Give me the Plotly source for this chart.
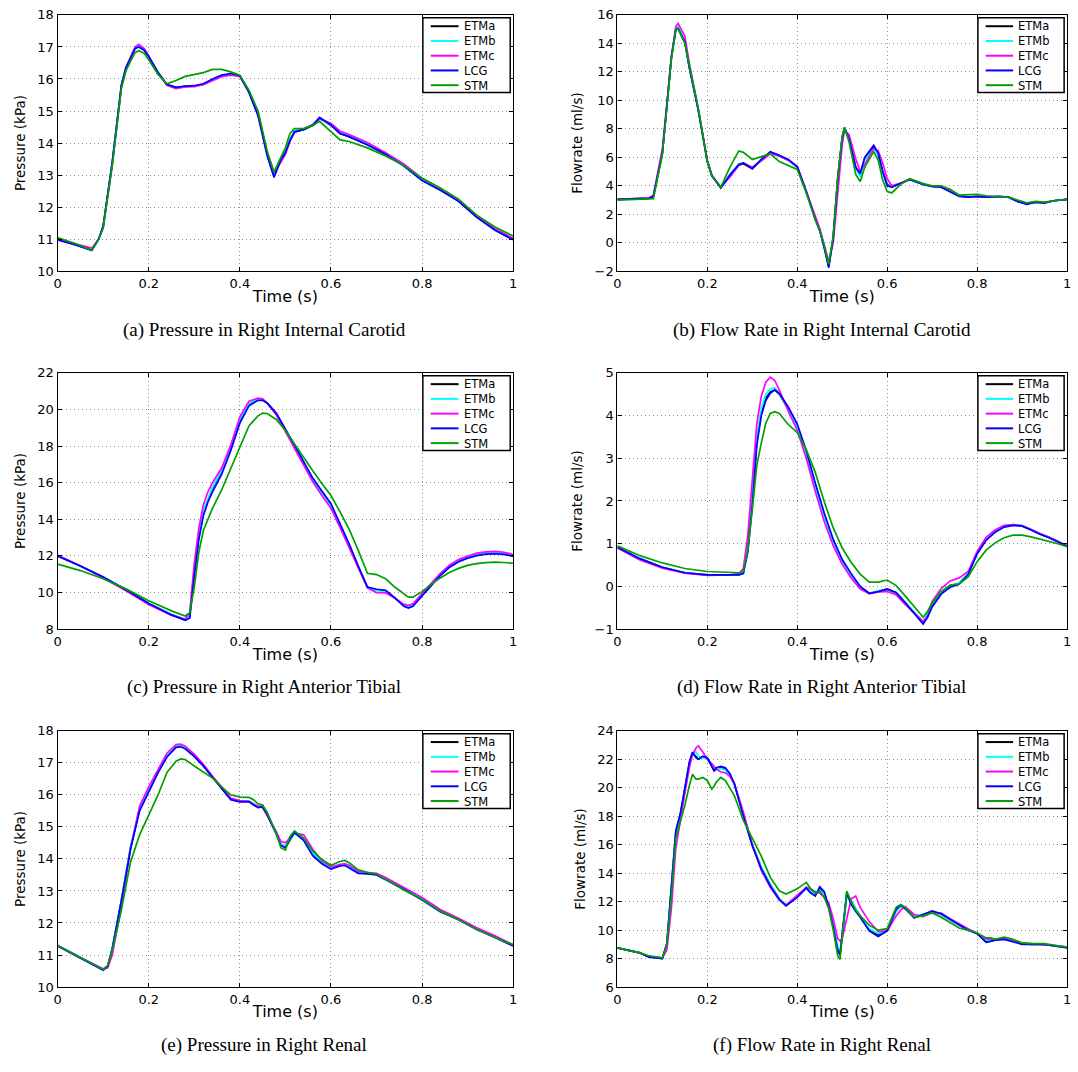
import plotly.graph_objects as go

SERIES = ["ETMa", "ETMb", "ETMc", "LCG", "STM"]
COLORS = ["#000000", "#00ffff", "#ff00ff", "#0000ff", "#00a000"]
X_TICKS = [0, 0.2, 0.4, 0.6, 0.8, 1]

# ---------------- (a) Pressure in Right Internal Carotid ----------------
T_A = [0, 0.04, 0.075, 0.09, 0.1, 0.12, 0.14, 0.15, 0.16, 0.17,
       0.178, 0.19, 0.2, 0.22, 0.24, 0.26, 0.28, 0.3, 0.32, 0.34,
       0.36, 0.38, 0.4, 0.42, 0.44, 0.46, 0.475, 0.49, 0.5, 0.51,
       0.52, 0.54, 0.56, 0.575, 0.6, 0.62, 0.64, 0.68, 0.72, 0.76,
       0.8, 0.84, 0.88, 0.92, 0.96, 1.0]
A_ETMA = [11.0, 10.83, 10.66, 11.0, 11.4, 13.4, 15.8, 16.35, 16.65, 16.95,
          17.02, 16.9, 16.7, 16.2, 15.82, 15.73, 15.77, 15.78, 15.84, 15.98,
          16.1, 16.15, 16.1, 15.6, 14.9, 13.65, 12.97, 13.5, 13.72, 14.1,
          14.35, 14.42, 14.55, 14.78, 14.55, 14.3, 14.2, 13.95, 13.65, 13.3,
          12.85, 12.55, 12.2, 11.7, 11.3, 11.0]
A_ETMB = [11.0, 10.83, 10.66, 11.0, 11.4, 13.4, 15.8, 16.35, 16.65, 16.96,
          17.04, 16.92, 16.7, 16.2, 15.82, 15.73, 15.77, 15.78, 15.84, 15.98,
          16.1, 16.15, 16.1, 15.62, 14.92, 13.68, 13.0, 13.5, 13.72, 14.12,
          14.38, 14.43, 14.55, 14.76, 14.57, 14.32, 14.22, 13.97, 13.67, 13.32,
          12.86, 12.56, 12.2, 11.7, 11.3, 11.0]
A_ETMC = [11.0, 10.85, 10.72, 11.0, 11.35, 13.3, 15.75, 16.35, 16.7, 17.0,
          17.08, 16.95, 16.72, 16.18, 15.8, 15.7, 15.75, 15.76, 15.82, 15.95,
          16.07, 16.12, 16.08, 15.6, 14.92, 13.7, 13.05, 13.4, 13.65, 14.05,
          14.33, 14.45, 14.58, 14.75, 14.62, 14.37, 14.27, 14.02, 13.7, 13.35,
          12.9, 12.58, 12.22, 11.72, 11.33, 11.02]
A_LCG = [10.98, 10.82, 10.65, 11.0, 11.4, 13.4, 15.8, 16.35, 16.65, 16.95,
         17.0, 16.9, 16.7, 16.22, 15.83, 15.74, 15.78, 15.79, 15.85, 16.0,
         16.12, 16.17, 16.1, 15.58, 14.85, 13.6, 12.93, 13.48, 13.7, 14.08,
         14.35, 14.42, 14.56, 14.8, 14.57, 14.3, 14.2, 13.95, 13.65, 13.28,
         12.83, 12.53, 12.18, 11.68, 11.28, 10.98]
A_STM = [11.05, 10.86, 10.66, 11.0, 11.35, 13.3, 15.7, 16.25, 16.55, 16.82,
         16.88, 16.8, 16.6, 16.15, 15.85, 15.95, 16.08, 16.15, 16.2, 16.3,
         16.3, 16.22, 16.12, 15.65, 15.0, 13.75, 13.1, 13.55, 13.85, 14.3,
         14.45, 14.45, 14.55, 14.68, 14.35, 14.1, 14.05, 13.85, 13.6, 13.3,
         12.9, 12.6, 12.25, 11.75, 11.38, 11.1]

# ---------------- (b) Flow Rate in Right Internal Carotid ----------------
T_B = [0, 0.07, 0.08, 0.1, 0.11, 0.12, 0.13, 0.135, 0.15, 0.16,
       0.18, 0.2, 0.21, 0.23, 0.25, 0.27, 0.28, 0.3, 0.32, 0.34,
       0.36, 0.38, 0.4, 0.42, 0.44, 0.45, 0.46, 0.47, 0.48, 0.49,
       0.5, 0.505, 0.515, 0.53, 0.54, 0.55, 0.57, 0.58, 0.59, 0.6,
       0.61, 0.63, 0.65, 0.68, 0.7, 0.72, 0.74, 0.76, 0.78, 0.8,
       0.82, 0.85, 0.87, 0.89, 0.91, 0.93, 0.95, 0.97, 1.0]
B_ETMA = [3.05, 3.12, 3.25, 6.3, 9.6, 13.0, 15.0, 15.1, 14.1, 12.3,
          9.3, 5.7, 4.7, 3.9, 4.75, 5.45, 5.55, 5.2, 5.8, 6.35,
          6.1, 5.8, 5.3, 3.6, 1.7, 0.9, -0.3, -1.65, 0.4, 4.5,
          7.4, 8.1, 7.3, 5.3, 4.8, 5.9, 6.75, 6.2, 5.0, 4.1,
          3.9, 4.2, 4.45, 4.1, 3.95, 3.9, 3.65, 3.3, 3.2, 3.25,
          3.2, 3.25, 3.2, 2.9, 2.75, 2.85, 2.8, 2.95, 3.05]
B_ETMB = [3.05, 3.12, 3.25, 6.3, 9.6, 13.0, 15.0, 15.2, 14.1, 12.3,
          9.3, 5.7, 4.7, 3.9, 4.8, 5.55, 5.6, 5.25, 5.85, 6.35,
          6.1, 5.8, 5.3, 3.6, 1.7, 0.9, -0.3, -1.6, 0.4, 4.5,
          7.4, 8.1, 7.3, 5.2, 4.65, 5.8, 6.6, 6.2, 5.0, 4.0,
          3.9, 4.2, 4.45, 4.1, 3.95, 3.9, 3.65, 3.3, 3.2, 3.25,
          3.2, 3.25, 3.2, 2.9, 2.75, 2.85, 2.8, 2.95, 3.05]
B_ETMC = [3.05, 3.15, 3.35, 6.6, 9.8, 13.1, 15.2, 15.4, 14.5, 12.6,
          9.4, 5.8, 4.75, 3.9, 4.6, 5.45, 5.6, 5.3, 5.75, 6.25,
          6.1, 5.8, 5.35, 3.65, 1.8, 1.0, -0.15, -1.3, 0.0, 3.6,
          6.9, 7.9, 7.6, 5.9, 5.0, 5.5, 6.6, 6.45, 5.6, 4.5,
          4.0, 4.2, 4.45, 4.15, 3.95, 3.9, 3.65, 3.3, 3.2, 3.25,
          3.2, 3.25, 3.2, 2.9, 2.75, 2.85, 2.8, 2.95, 3.05]
B_LCG = [3.05, 3.12, 3.25, 6.3, 9.6, 13.0, 15.0, 15.05, 14.1, 12.3,
         9.3, 5.7, 4.7, 3.85, 4.75, 5.5, 5.6, 5.2, 5.85, 6.4,
         6.15, 5.85, 5.35, 3.6, 1.65, 0.85, -0.35, -1.75, 0.35, 4.5,
         7.4, 8.05, 7.3, 5.3, 4.85, 6.0, 6.85, 6.3, 5.0, 4.0,
         3.9, 4.2, 4.45, 4.1, 3.95, 3.9, 3.6, 3.25, 3.2, 3.25,
         3.2, 3.25, 3.2, 2.9, 2.7, 2.85, 2.8, 2.95, 3.05]
B_STM = [3.0, 3.08, 3.1, 6.2, 9.5, 12.9, 15.0, 15.0, 14.0, 12.4,
         9.4, 5.7, 4.7, 3.9, 5.3, 6.45, 6.35, 5.85, 6.05, 6.25,
         5.7, 5.4, 5.15, 3.5, 1.6, 0.85, -0.2, -1.5, 0.5, 4.6,
         7.5, 8.1, 7.1, 4.8, 4.3, 5.3, 6.4, 5.8, 4.4, 3.6,
         3.5, 4.1, 4.5, 4.15, 4.0, 4.0, 3.75, 3.35, 3.35, 3.4,
         3.3, 3.25, 3.2, 3.0, 2.8, 2.9, 2.85, 2.95, 3.05]

# ---------------- (c) Pressure in Right Anterior Tibial ----------------
T_C = [0, 0.05, 0.1, 0.15, 0.2, 0.25, 0.28, 0.29, 0.3, 0.31,
       0.32, 0.33, 0.34, 0.36, 0.38, 0.4, 0.42, 0.44, 0.45, 0.46,
       0.48, 0.5, 0.52, 0.54, 0.56, 0.58, 0.6, 0.62, 0.64, 0.66,
       0.68, 0.7, 0.72, 0.74, 0.76, 0.77, 0.78, 0.8, 0.82, 0.84,
       0.86, 0.88, 0.9, 0.92, 0.94, 0.96, 0.98, 1.0]
C_ETMA = [12.0, 11.45, 10.85, 10.15, 9.4, 8.8, 8.52, 8.7, 11.2, 13.1,
          14.4, 15.1, 15.7, 16.6, 17.9, 19.4, 20.3, 20.55, 20.52, 20.35,
          19.75, 18.9, 18.0, 17.1, 16.2, 15.5, 14.8, 13.7, 12.6, 11.4,
          10.3, 10.15, 10.1, 9.7, 9.3, 9.2, 9.3, 9.85, 10.4, 10.95,
          11.4, 11.7, 11.9, 12.05, 12.12, 12.15, 12.12, 12.0]
C_ETMB = [12.0, 11.45, 10.85, 10.15, 9.4, 8.8, 8.52, 8.7, 11.2, 13.15,
          14.45, 15.15, 15.75, 16.65, 17.95, 19.45, 20.32, 20.56, 20.52, 20.33,
          19.73, 18.88, 17.98, 17.08, 16.18, 15.45, 14.75, 13.68, 12.58, 11.38,
          10.3, 10.12, 10.05, 9.68, 9.3, 9.22, 9.32, 9.88, 10.42, 10.97,
          11.42, 11.72, 11.93, 12.08, 12.15, 12.18, 12.15, 12.02]
C_ETMC = [12.05, 11.45, 10.8, 10.1, 9.35, 8.75, 8.55, 8.9, 11.6, 13.5,
          14.8, 15.5, 16.0, 16.8, 18.05, 19.6, 20.45, 20.62, 20.58, 20.35,
          19.7, 18.8, 17.9, 16.95, 16.05, 15.3, 14.6, 13.55, 12.45, 11.3,
          10.25, 10.0, 9.98, 9.7, 9.35, 9.3, 9.38, 9.95, 10.5, 11.05,
          11.5, 11.8, 12.0, 12.15, 12.22, 12.25, 12.2, 12.08]
C_LCG = [12.0, 11.45, 10.85, 10.15, 9.4, 8.78, 8.48, 8.6, 10.9, 12.9,
         14.2, 14.95, 15.5, 16.45, 17.75, 19.25, 20.2, 20.5, 20.5, 20.35,
         19.8, 18.95, 18.05, 17.15, 16.25, 15.55, 14.85, 13.75, 12.65, 11.45,
         10.3, 10.18, 10.12, 9.72, 9.25, 9.15, 9.25, 9.82, 10.38, 10.93,
         11.38, 11.68, 11.88, 12.02, 12.1, 12.12, 12.08, 11.98]
C_STM = [11.55, 11.2, 10.75, 10.2, 9.55, 9.0, 8.72, 8.9, 10.3, 12.2,
         13.4, 14.05, 14.6, 15.6, 16.75, 18.0, 19.1, 19.65, 19.8, 19.78,
         19.45, 18.85, 18.1, 17.35, 16.65, 15.95, 15.3, 14.4, 13.45, 12.3,
         11.05, 10.98, 10.75, 10.3, 9.9, 9.75, 9.75, 10.05, 10.45, 10.8,
         11.1, 11.32, 11.48, 11.58, 11.63, 11.66, 11.64, 11.6]

# ---------------- (d) Flow Rate in Right Anterior Tibial ----------------
T_D = [0, 0.05, 0.1, 0.15, 0.2, 0.25, 0.27, 0.28, 0.29, 0.3,
       0.31, 0.32, 0.33, 0.34, 0.35, 0.36, 0.38, 0.4, 0.42, 0.44,
       0.46, 0.48, 0.5, 0.52, 0.54, 0.56, 0.58, 0.6, 0.62, 0.64,
       0.66, 0.68, 0.69, 0.7, 0.72, 0.74, 0.76, 0.78, 0.8, 0.82,
       0.84, 0.86, 0.88, 0.9, 0.92, 0.94, 0.96, 0.98, 1.0]
D_ETMA = [0.92, 0.65, 0.45, 0.32, 0.27, 0.26, 0.27, 0.32, 0.9, 2.0,
          3.4, 4.05, 4.4, 4.55, 4.6, 4.5, 4.15, 3.75, 3.13, 2.37,
          1.67, 1.06, 0.6, 0.27, -0.02, -0.17, -0.12, -0.07, -0.15, -0.38,
          -0.62, -0.85, -0.65, -0.42, -0.15, 0.0, 0.07, 0.3, 0.78, 1.1,
          1.28, 1.4, 1.44, 1.42, 1.33, 1.23, 1.15, 1.05, 0.95]
D_ETMB = [0.92, 0.65, 0.45, 0.32, 0.27, 0.26, 0.27, 0.33, 0.95, 2.1,
          3.5, 4.15, 4.5, 4.62, 4.65, 4.52, 4.15, 3.72, 3.1, 2.33,
          1.63, 1.03, 0.58, 0.25, -0.03, -0.16, -0.1, -0.06, -0.14, -0.37,
          -0.6, -0.82, -0.62, -0.4, -0.14, 0.02, 0.08, 0.32, 0.8, 1.12,
          1.3, 1.42, 1.45, 1.43, 1.33, 1.23, 1.15, 1.05, 0.95]
D_ETMC = [0.9, 0.62, 0.43, 0.31, 0.26, 0.27, 0.3, 0.42, 1.2, 2.5,
          3.8, 4.45, 4.78, 4.9, 4.82, 4.6, 4.1, 3.65, 3.0, 2.22,
          1.52, 0.95, 0.52, 0.2, -0.06, -0.17, -0.13, -0.12, -0.2, -0.42,
          -0.62, -0.82, -0.7, -0.35, -0.05, 0.13, 0.2, 0.35, 0.82, 1.15,
          1.32, 1.43, 1.45, 1.42, 1.33, 1.23, 1.15, 1.05, 0.95]
D_LCG = [0.92, 0.65, 0.45, 0.32, 0.27, 0.26, 0.27, 0.3, 0.8, 1.9,
         3.3, 4.0, 4.35, 4.52, 4.6, 4.52, 4.2, 3.8, 3.18, 2.42,
         1.72, 1.1, 0.63, 0.3, 0.0, -0.16, -0.12, -0.06, -0.14, -0.38,
         -0.62, -0.88, -0.72, -0.48, -0.18, -0.02, 0.05, 0.28, 0.76, 1.08,
         1.27, 1.39, 1.43, 1.41, 1.32, 1.22, 1.14, 1.04, 0.94]
D_STM = [0.95, 0.72, 0.55, 0.42, 0.35, 0.32, 0.32, 0.35, 0.85, 1.8,
         2.83, 3.36, 3.82, 4.05, 4.09, 4.05, 3.79, 3.6, 3.2, 2.67,
         1.98, 1.37, 0.9, 0.56, 0.29, 0.1, 0.1, 0.15, 0.02, -0.22,
         -0.48, -0.72, -0.58, -0.38, -0.12, 0.03, 0.06, 0.22, 0.58, 0.85,
         1.02, 1.14, 1.2, 1.2, 1.16, 1.11, 1.06, 1.0, 0.93]

# ---------------- (e) Pressure in Right Renal ----------------
T_E = [0, 0.05, 0.1, 0.11, 0.12, 0.14, 0.16, 0.18, 0.2, 0.22,
       0.24, 0.26, 0.27, 0.28, 0.3, 0.32, 0.34, 0.36, 0.38, 0.4,
       0.42, 0.43, 0.44, 0.45, 0.46, 0.48, 0.49, 0.5, 0.51, 0.52,
       0.54, 0.56, 0.58, 0.6, 0.62, 0.63, 0.64, 0.66, 0.68, 0.7,
       0.72, 0.76, 0.8, 0.84, 0.88, 0.92, 0.96, 1.0]
E_ETMA = [11.3, 10.92, 10.55, 10.65, 11.2, 12.7, 14.35, 15.55, 16.15, 16.7,
          17.2, 17.5, 17.52, 17.45, 17.2, 16.9, 16.55, 16.22, 15.88, 15.8,
          15.8, 15.72, 15.62, 15.65, 15.4, 14.8, 14.45, 14.35, 14.6, 14.82,
          14.6, 14.15, 13.9, 13.7, 13.8, 13.83, 13.76, 13.6, 13.55, 13.52,
          13.37, 13.07, 12.75, 12.37, 12.12, 11.82, 11.57, 11.3]
E_ETMB = [11.3, 10.92, 10.55, 10.65, 11.2, 12.72, 14.38, 15.57, 16.17, 16.72,
          17.22, 17.52, 17.54, 17.47, 17.22, 16.92, 16.56, 16.22, 15.88, 15.8,
          15.8, 15.73, 15.64, 15.66, 15.42, 14.8, 14.47, 14.4, 14.62, 14.8,
          14.6, 14.17, 13.92, 13.72, 13.82, 13.84, 13.77, 13.6, 13.55, 13.52,
          13.38, 13.08, 12.76, 12.38, 12.12, 11.82, 11.57, 11.3]
E_ETMC = [11.3, 10.92, 10.57, 10.6, 11.0, 12.5, 14.3, 15.65, 16.25, 16.8,
          17.3, 17.57, 17.58, 17.52, 17.27, 16.95, 16.58, 16.25, 15.9, 15.82,
          15.8, 15.7, 15.65, 15.6, 15.35, 14.85, 14.55, 14.5, 14.65, 14.8,
          14.75, 14.3, 13.95, 13.75, 13.82, 13.85, 13.8, 13.62, 13.57, 13.55,
          13.42, 13.12, 12.8, 12.42, 12.15, 11.85, 11.6, 11.32]
E_LCG = [11.28, 10.9, 10.53, 10.65, 11.2, 12.7, 14.3, 15.5, 16.1, 16.68,
         17.18, 17.48, 17.5, 17.44, 17.2, 16.9, 16.55, 16.2, 15.85, 15.78,
         15.78, 15.68, 15.6, 15.62, 15.38, 14.78, 14.42, 14.35, 14.62, 14.82,
         14.58, 14.1, 13.85, 13.68, 13.78, 13.8, 13.72, 13.55, 13.53, 13.5,
         13.35, 13.05, 12.72, 12.35, 12.1, 11.8, 11.55, 11.28]
E_STM = [11.3, 10.93, 10.55, 10.68, 11.15, 12.4, 13.9, 14.75, 15.36, 15.98,
         16.7, 17.05, 17.12, 17.1, 16.9, 16.7, 16.52, 16.25, 16.0, 15.93,
         15.92, 15.85, 15.72, 15.68, 15.45, 14.8, 14.35, 14.28, 14.7, 14.87,
         14.65, 14.25, 13.98, 13.8, 13.92, 13.95, 13.88, 13.66, 13.58, 13.53,
         13.36, 13.03, 12.73, 12.37, 12.1, 11.8, 11.55, 11.32]

# ---------------- (f) Flow Rate in Right Renal ----------------
T_F = [0, 0.05, 0.07, 0.09, 0.1, 0.11, 0.12, 0.13, 0.14, 0.15,
       0.16, 0.167, 0.175, 0.18, 0.19, 0.2, 0.21, 0.215, 0.22, 0.23,
       0.24, 0.25, 0.26, 0.28, 0.3, 0.32, 0.34, 0.36, 0.375, 0.4,
       0.42, 0.43, 0.44, 0.45, 0.46, 0.47, 0.48, 0.49, 0.495, 0.5,
       0.51, 0.52, 0.53, 0.54, 0.56, 0.58, 0.6, 0.62, 0.63, 0.64,
       0.66, 0.68, 0.7, 0.72, 0.74, 0.76, 0.78, 0.8, 0.82, 0.83,
       0.84, 0.86, 0.88, 0.9, 0.92, 0.95, 0.98, 1.0]
F_ETMA = [8.75, 8.4, 8.15, 8.05, 8.0, 9.0, 12.8, 16.9, 18.1, 19.9,
          21.7, 22.45, 22.15, 22.0, 22.2, 22.05, 21.5, 21.2, 21.3, 21.4,
          21.3, 20.9, 20.25, 18.1, 16.0, 14.4, 13.2, 12.2, 11.75, 12.35,
          13.0, 12.75, 12.45, 12.9, 12.6, 11.6, 10.3, 8.6, 8.25, 9.6,
          12.5, 12.0, 11.5, 11.0, 10.0, 9.65, 10.0, 11.45, 11.7, 11.5,
          10.9, 11.1, 11.3, 11.1, 10.7, 10.35, 10.0, 9.8, 9.2, 9.25,
          9.35, 9.4, 9.25, 9.05, 9.0, 9.0, 8.85, 8.8]
F_ETMB = [8.75, 8.4, 8.15, 8.05, 8.0, 9.0, 12.8, 16.9, 18.1, 19.9,
          21.7, 22.4, 22.5, 22.2, 22.1, 22.0, 21.6, 21.3, 21.3, 21.35,
          21.25, 20.9, 20.25, 18.1, 16.0, 14.4, 13.2, 12.2, 11.75, 12.35,
          13.0, 12.75, 12.5, 12.8, 12.55, 11.7, 10.4, 8.8, 8.5, 9.5,
          12.3, 12.1, 11.5, 11.0, 10.1, 9.75, 9.95, 11.3, 11.65, 11.55,
          10.95, 11.1, 11.3, 11.1, 10.7, 10.35, 10.0, 9.8, 9.3, 9.3,
          9.35, 9.4, 9.25, 9.05, 9.0, 9.0, 8.85, 8.8]
F_ETMC = [8.75, 8.4, 8.15, 8.05, 8.05, 8.6, 11.5, 15.8, 17.8, 19.6,
          21.4, 22.3, 22.8, 22.95, 22.5, 22.0, 21.7, 21.5, 21.3, 21.1,
          21.05, 20.8, 20.3, 18.3, 16.0, 14.2, 13.0, 12.1, 11.75, 12.45,
          13.0, 12.9, 12.7, 12.6, 12.3, 11.9, 10.8, 9.4, 9.25, 9.4,
          10.8, 12.2, 12.4, 11.6, 10.6, 9.9, 9.95, 11.0, 11.4, 11.65,
          11.1, 10.95, 11.25, 11.2, 10.8, 10.45, 10.1, 9.8, 9.4, 9.35,
          9.35, 9.4, 9.3, 9.1, 9.05, 9.0, 8.9, 8.8]
F_LCG = [8.75, 8.4, 8.1, 8.0, 8.0, 9.1, 13.0, 17.0, 18.2, 20.0,
         21.8, 22.5, 22.1, 22.0, 22.2, 22.1, 21.55, 21.2, 21.4, 21.5,
         21.4, 21.0, 20.3, 18.0, 15.9, 14.3, 13.1, 12.15, 11.7, 12.3,
         12.95, 12.6, 12.4, 13.05, 12.7, 11.6, 10.2, 8.6, 8.3, 9.7,
         12.6, 11.8, 11.3, 10.9, 9.95, 9.55, 9.95, 11.45, 11.75, 11.55,
         10.85, 11.1, 11.35, 11.15, 10.75, 10.35, 10.0, 9.75, 9.15, 9.2,
         9.3, 9.35, 9.2, 9.0, 9.0, 9.0, 8.85, 8.75]
F_STM = [8.75, 8.4, 8.2, 8.1, 8.05, 9.0, 12.4, 16.45, 17.6, 18.76,
         20.15, 20.95, 20.6, 20.6, 20.72, 20.5, 19.9, 20.1, 20.4, 20.72,
         20.5, 20.0, 19.45, 17.7, 16.45, 15.2, 13.7, 12.76, 12.53, 12.9,
         13.35, 12.9, 12.6, 12.75, 12.3, 11.5, 10.0, 8.2, 7.95, 9.4,
         12.75, 12.0, 11.4, 11.0, 10.35, 10.0, 10.1, 11.6, 11.8, 11.6,
         10.9, 11.0, 11.2, 10.9, 10.55, 10.15, 10.0, 9.8, 9.45, 9.45,
         9.35, 9.5, 9.35, 9.1, 9.05, 9.05, 8.9, 8.8]

PANELS = [
    dict(t=T_A, ys=[A_ETMA, A_ETMB, A_ETMC, A_LCG, A_STM], yrange=[10, 18], dtick=1,
         ytitle="Pressure (kPa)", caption="(a) Pressure in Right Internal Carotid"),
    dict(t=T_B, ys=[B_ETMA, B_ETMB, B_ETMC, B_LCG, B_STM], yrange=[-2, 16], dtick=2,
         ytitle="Flowrate (ml/s)", caption="(b) Flow Rate in Right Internal Carotid"),
    dict(t=T_C, ys=[C_ETMA, C_ETMB, C_ETMC, C_LCG, C_STM], yrange=[8, 22], dtick=2,
         ytitle="Pressure (kPa)", caption="(c) Pressure in Right Anterior Tibial"),
    dict(t=T_D, ys=[D_ETMA, D_ETMB, D_ETMC, D_LCG, D_STM], yrange=[-1, 5], dtick=1,
         ytitle="Flowrate (ml/s)", caption="(d) Flow Rate in Right Anterior Tibial"),
    dict(t=T_E, ys=[E_ETMA, E_ETMB, E_ETMC, E_LCG, E_STM], yrange=[10, 18], dtick=1,
         ytitle="Pressure (kPa)", caption="(e) Pressure in Right Renal"),
    dict(t=T_F, ys=[F_ETMA, F_ETMB, F_ETMC, F_LCG, F_STM], yrange=[6, 24], dtick=2,
         ytitle="Flowrate (ml/s)", caption="(f) Flow Rate in Right Renal"),
]

W, H = 1078, 1072
X_DOMAINS = [[54 / W, 513 / W], [618 / W, 1071 / W]]
Y_DOMAINS = [[1 - 268 / H, 1 - 8 / H], [1 - 631 / H, 1 - 371 / H], [1 - 994 / H, 1 - 734 / H]]
CAPTION_X = [262 / W, 824 / W]
CAPTION_Y = [1 - 328 / H, 1 - 690 / H, 1 - 1053 / H]
PANEL_H = 260.0            # px height of every plot area
LEG_FONT = 11.5
LEG_PITCH = LEG_FONT * 1.3  # plotly line spacing of multi-line text

SANS = "DejaVu Sans"
SERIF = "Liberation Serif"

fig = go.Figure()
shapes = []
annotations = []

for i, p in enumerate(PANELS):
    row, col = i // 2, i % 2
    k = i + 1
    xa = "x" if k == 1 else f"x{k}"
    ya = "y" if k == 1 else f"y{k}"
    for name, color, yv in zip(SERIES, COLORS, p["ys"]):
        assert len(yv) == len(p["t"]), (p["caption"], name, len(yv), len(p["t"]))
        fig.add_trace(go.Scatter(x=p["t"], y=yv, mode="lines", name=name,
                                 line=dict(color=color, width=1.7),
                                 xaxis=xa, yaxis=ya, showlegend=False))
    axis_common = dict(showline=True, linecolor="black", linewidth=1.2, mirror="ticks",
                       ticks="inside", ticklen=4, tickcolor="black",
                       showgrid=True, gridcolor="#909090", griddash="1px,3px", gridwidth=1,
                       zeroline=False, tickfont=dict(family=SANS, size=13, color="black"))
    fig.layout["xaxis" if k == 1 else f"xaxis{k}"] = dict(
        axis_common, domain=X_DOMAINS[col], anchor=ya, range=[0, 1],
        tickvals=X_TICKS,
        title=dict(text="Time (s)", font=dict(family=SANS, size=16, color="black"), standoff=0))
    fig.layout["yaxis" if k == 1 else f"yaxis{k}"] = dict(
        axis_common, domain=Y_DOMAINS[row], anchor=xa, range=p["yrange"], dtick=p["dtick"],
        title=dict(text=p["ytitle"], font=dict(family=SANS, size=13.5, color="black"), standoff=8))

    # legend box inside the axes (top-right)
    xd = f"{xa} domain"
    yd = f"{ya} domain"
    first = 11.5
    shapes.append(dict(type="rect", xref=xd, yref=yd, x0=0.8017, x1=0.9935,
                       y0=1 - (first + 4 * LEG_PITCH + 7.5) / PANEL_H, y1=1 - 3 / PANEL_H,
                       line=dict(color="black", width=1.5), fillcolor="white", layer="above"))
    for j, color in enumerate(COLORS):
        yy = 1 - (first + LEG_PITCH * j) / PANEL_H
        shapes.append(dict(type="line", xref=xd, yref=yd, x0=0.819, x1=0.880, y0=yy, y1=yy,
                           line=dict(color=color, width=2), layer="above"))
    annotations.append(dict(xref=xd, yref=yd, x=0.887, y=1 - (first + 2 * LEG_PITCH) / PANEL_H,
                            text="<br>".join(SERIES), showarrow=False, align="left",
                            xanchor="left", yanchor="middle",
                            font=dict(family=SANS, size=LEG_FONT, color="black")))
    annotations.append(dict(xref="paper", yref="paper", x=CAPTION_X[col], y=CAPTION_Y[row],
                            text=p["caption"], showarrow=False, xanchor="center", yanchor="middle",
                            font=dict(family=SERIF, size=19, color="black")))

fig.update_layout(width=W, height=H, margin=dict(l=0, r=0, t=0, b=0),
                  paper_bgcolor="white", plot_bgcolor="white",
                  shapes=shapes, annotations=annotations, showlegend=False)

# remove the default 8px page margin so the figure sits at the window's top-left corner
fig.write_html("out.html", config={"displayModeBar": False},
               post_script="document.body.style.margin='0';")
